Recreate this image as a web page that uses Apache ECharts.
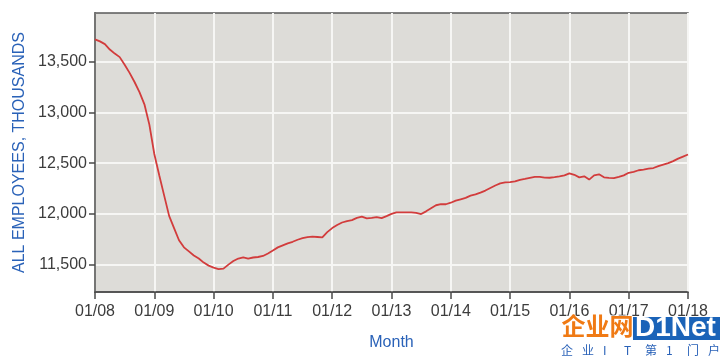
<!DOCTYPE html>
<html>
<head>
<meta charset="utf-8">
<script src="https://cdn.jsdelivr.net/npm/echarts@6/dist/echarts.min.js"></script>
<style>
html,body{margin:0;padding:0;background:#fff;}
#chart{width:720px;height:356px;}
</style>
</head>
<body>
<div id="chart"></div>
<script>
// Monthly values, Jan 2008 .. Jan 2018 (thousands)
var employees = [
  13720,13700,13673,13620,13580,13545,13470,13390,13300,13200,13080,12880,
  12590,12380,12180,11980,11860,11740,11670,11630,11590,11560,11520,11490,
  11470,11455,11460,11500,11535,11560,11572,11560,11570,11575,11585,11610,
  11640,11670,11690,11710,11725,11745,11760,11770,11775,11772,11768,11820,
  11860,11890,11915,11929,11939,11960,11972,11956,11960,11968,11958,11978,
  12000,12014,12014,12014,12014,12010,11998,12025,12055,12085,12095,12095,
  12110,12130,12144,12158,12180,12193,12210,12230,12255,12280,12300,12310,
  12314,12320,12336,12345,12355,12365,12365,12358,12356,12362,12370,12380,
  12400,12385,12360,12370,12338,12380,12390,12360,12355,12352,12365,12380,
  12405,12415,12430,12437,12445,12452,12470,12485,12500,12520,12545,12565,
  12585
];
var yearLabels = ['01/08','01/09','01/10','01/11','01/12','01/13','01/14','01/15','01/16','01/17','01/18'];
var yTicks = [11500, 12000, 12500, 13000, 13500];
var yTitle = 'ALL EMPLOYEES, THOUSANDS';
var xTitle = 'Month';
var markChars = ['企', '业', 'I', 'T', '第', '1', '门', '户'];

var months = [];
for (var i = 0; i < employees.length; i++) {
  var y = Math.floor(i / 12), m = i % 12 + 1;
  months.push((m < 10 ? '0' + m : '' + m) + '/' + yearLabels[y].slice(3));
}

var font = '"Liberation Sans", Arial, sans-serif';
var cjk = '"Noto Sans CJK SC", sans-serif';
var graphics = [
  {type: 'text', left: 561, top: 313, z: 100, style: {text: '企业网', fontSize: 24, fontWeight: 'bold', fontFamily: cjk, fill: '#f07a14', stroke: '#ffffff', lineWidth: 1}},
  {type: 'rect', left: 633, top: 317, z: 100, shape: {width: 87, height: 23}, style: {fill: '#1a63b8'}},
  {type: 'text', left: 635, top: 314, z: 101, style: {text: 'D1Net', fontSize: 28, fontWeight: 'bold', fontFamily: font, fill: '#ffffff'}}
];
markChars.forEach(function (c, k) {
  graphics.push({type: 'text', left: 561 + k * 21, top: 344, z: 100,
    style: {text: c, fontSize: 12, fontFamily: cjk, fill: '#2a62b8'}});
});

var chart = echarts.init(document.getElementById('chart'), null, {renderer: 'canvas'});
chart.setOption({
  animation: false,
  backgroundColor: '#ffffff',
  grid: {left: 95, top: 13, width: 593, height: 281, show: true, backgroundColor: '#dddcd8', borderColor: '#5a5a5a', borderWidth: 1.5},
  xAxis: {
    type: 'category',
    data: months,
    boundaryGap: false,
    name: xTitle,
    nameLocation: 'middle',
    nameGap: 43,
    nameTextStyle: {color: '#2a62b8', fontSize: 16, fontFamily: font},
    axisLine: {lineStyle: {color: '#4a4a4a', width: 1.5}},
    axisTick: {show: true, interval: 11, length: 7, lineStyle: {color: '#4a4a4a', width: 1.5}},
    axisLabel: {interval: 11, color: '#3c3c3c', fontSize: 16, fontFamily: font, margin: 12},
    splitLine: {show: true, interval: 11, lineStyle: {color: '#f6f6f4', width: 2}}
  },
  yAxis: {
    type: 'value',
    min: 11230,
    max: 13980,
    name: yTitle,
    nameLocation: 'middle',
    nameGap: 61,
    nameTextStyle: {color: '#2a62b8', fontSize: 16, fontFamily: font},
    axisLine: {show: true, lineStyle: {color: '#4a4a4a', width: 1.5}},
    axisTick: {show: true, length: 6, customValues: yTicks, lineStyle: {color: '#4a4a4a', width: 1.5}},
    axisLabel: {color: '#3c3c3c', fontSize: 16, fontFamily: font, margin: 8, customValues: yTicks,
      formatter: function (v) { return Number(v).toLocaleString('en-US'); }},
    splitLine: {show: true, lineStyle: {color: '#f6f6f4', width: 2}}
  },
  series: [{
    type: 'line',
    data: employees,
    showSymbol: false,
    lineStyle: {color: '#d23c3c', width: 1.8},
    itemStyle: {color: '#d23c3c'}
  }],
  graphic: graphics
});
</script>
</body>
</html>
